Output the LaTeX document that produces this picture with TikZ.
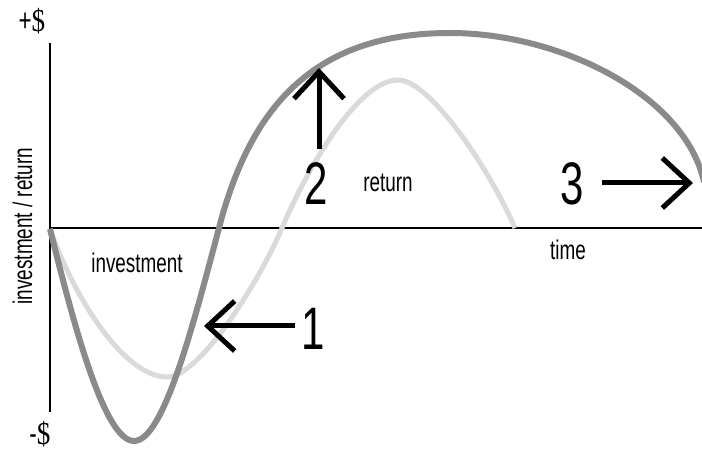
\documentclass[tikz,border=0pt]{standalone}
\usepackage{fontspec}
\setmainfont{Liberation Sans}[FakeStretch=0.7]
\newfontfamily\moneyfont{Liberation Serif}[FakeStretch=0.85]
\usetikzlibrary{arrows.meta}
\definecolor{darkcurve}{RGB}{138,138,138}
\definecolor{lightcurve}{RGB}{218,218,218}
\begin{document}
\begin{tikzpicture}[x=1pt,y=-1pt,
  axisline/.style={line width=1.6pt,black},
  bigarrow/.style={line width=5pt,black,-{Straight Barb[length=27pt,width=50pt]}},
  lbl/.style={font=\fontsize{27}{27}\selectfont,inner sep=0pt,anchor=base},
  num/.style={font=\fontsize{60}{60}\selectfont,inner sep=0pt},
  money/.style={font=\fontsize{32}{32}\selectfont,inner sep=0pt}]
\useasboundingbox (0,0) rectangle (702,454);
% axes
\coordinate (ytop) at (50,43);
\coordinate (ybot) at (50,412);
\coordinate (origin) at (50,228);
\coordinate (xend) at (702,228);
\draw[axisline] (ytop) -- (ybot);
\draw[axisline] (origin) -- (xend);
% light curve
\draw[lightcurve,line width=5pt] (50,229)
  .. controls (75,300) and (125,377) .. (167,377)
  .. controls (200,377) and (260,280) .. (282,228)
  .. controls (310,162) and (360,80) .. (398,80)
  .. controls (430,80) and (490,170) .. (515,228);
% dark curve
\draw[darkcurve,line width=6pt] (50,229)
  .. controls (75,330) and (105,441) .. (134,441)
  .. controls (163,441) and (192,330) .. (219,228)
  .. controls (252,100) and (320,33) .. (450,33)
  .. controls (560,33) and (685,95) .. (704,182);
% arrows
\coordinate (a1s) at (295,326); \coordinate (a1e) at (204,326);
\coordinate (a2s) at (319,149); \coordinate (a2e) at (319,68);
\coordinate (a3s) at (602,183); \coordinate (a3e) at (693,183);
\draw[bigarrow] (a1s) -- (a1e);
\draw[bigarrow] (a2s) -- (a2e);
\draw[bigarrow] (a3s) -- (a3e);
% numbers
\node[num] (n1) at (313,329) {1};
\node[num] (n2) at (316,184) {2};
\node[num] (n3) at (572,184) {3};
% labels
\node[lbl] (inv) at (137,273) {investment};
\node[lbl] (ret) at (388,192) {return};
\node[lbl] (time) at (568,260) {time};
\node[lbl,rotate=90] (ylab) at (32,226) {investment / return};
\node[money] (plus) at (32,21) {+{\moneyfont\$}};
\node[money] (minus) at (40,434) {-{\moneyfont\$}};
\end{tikzpicture}
\end{document}
